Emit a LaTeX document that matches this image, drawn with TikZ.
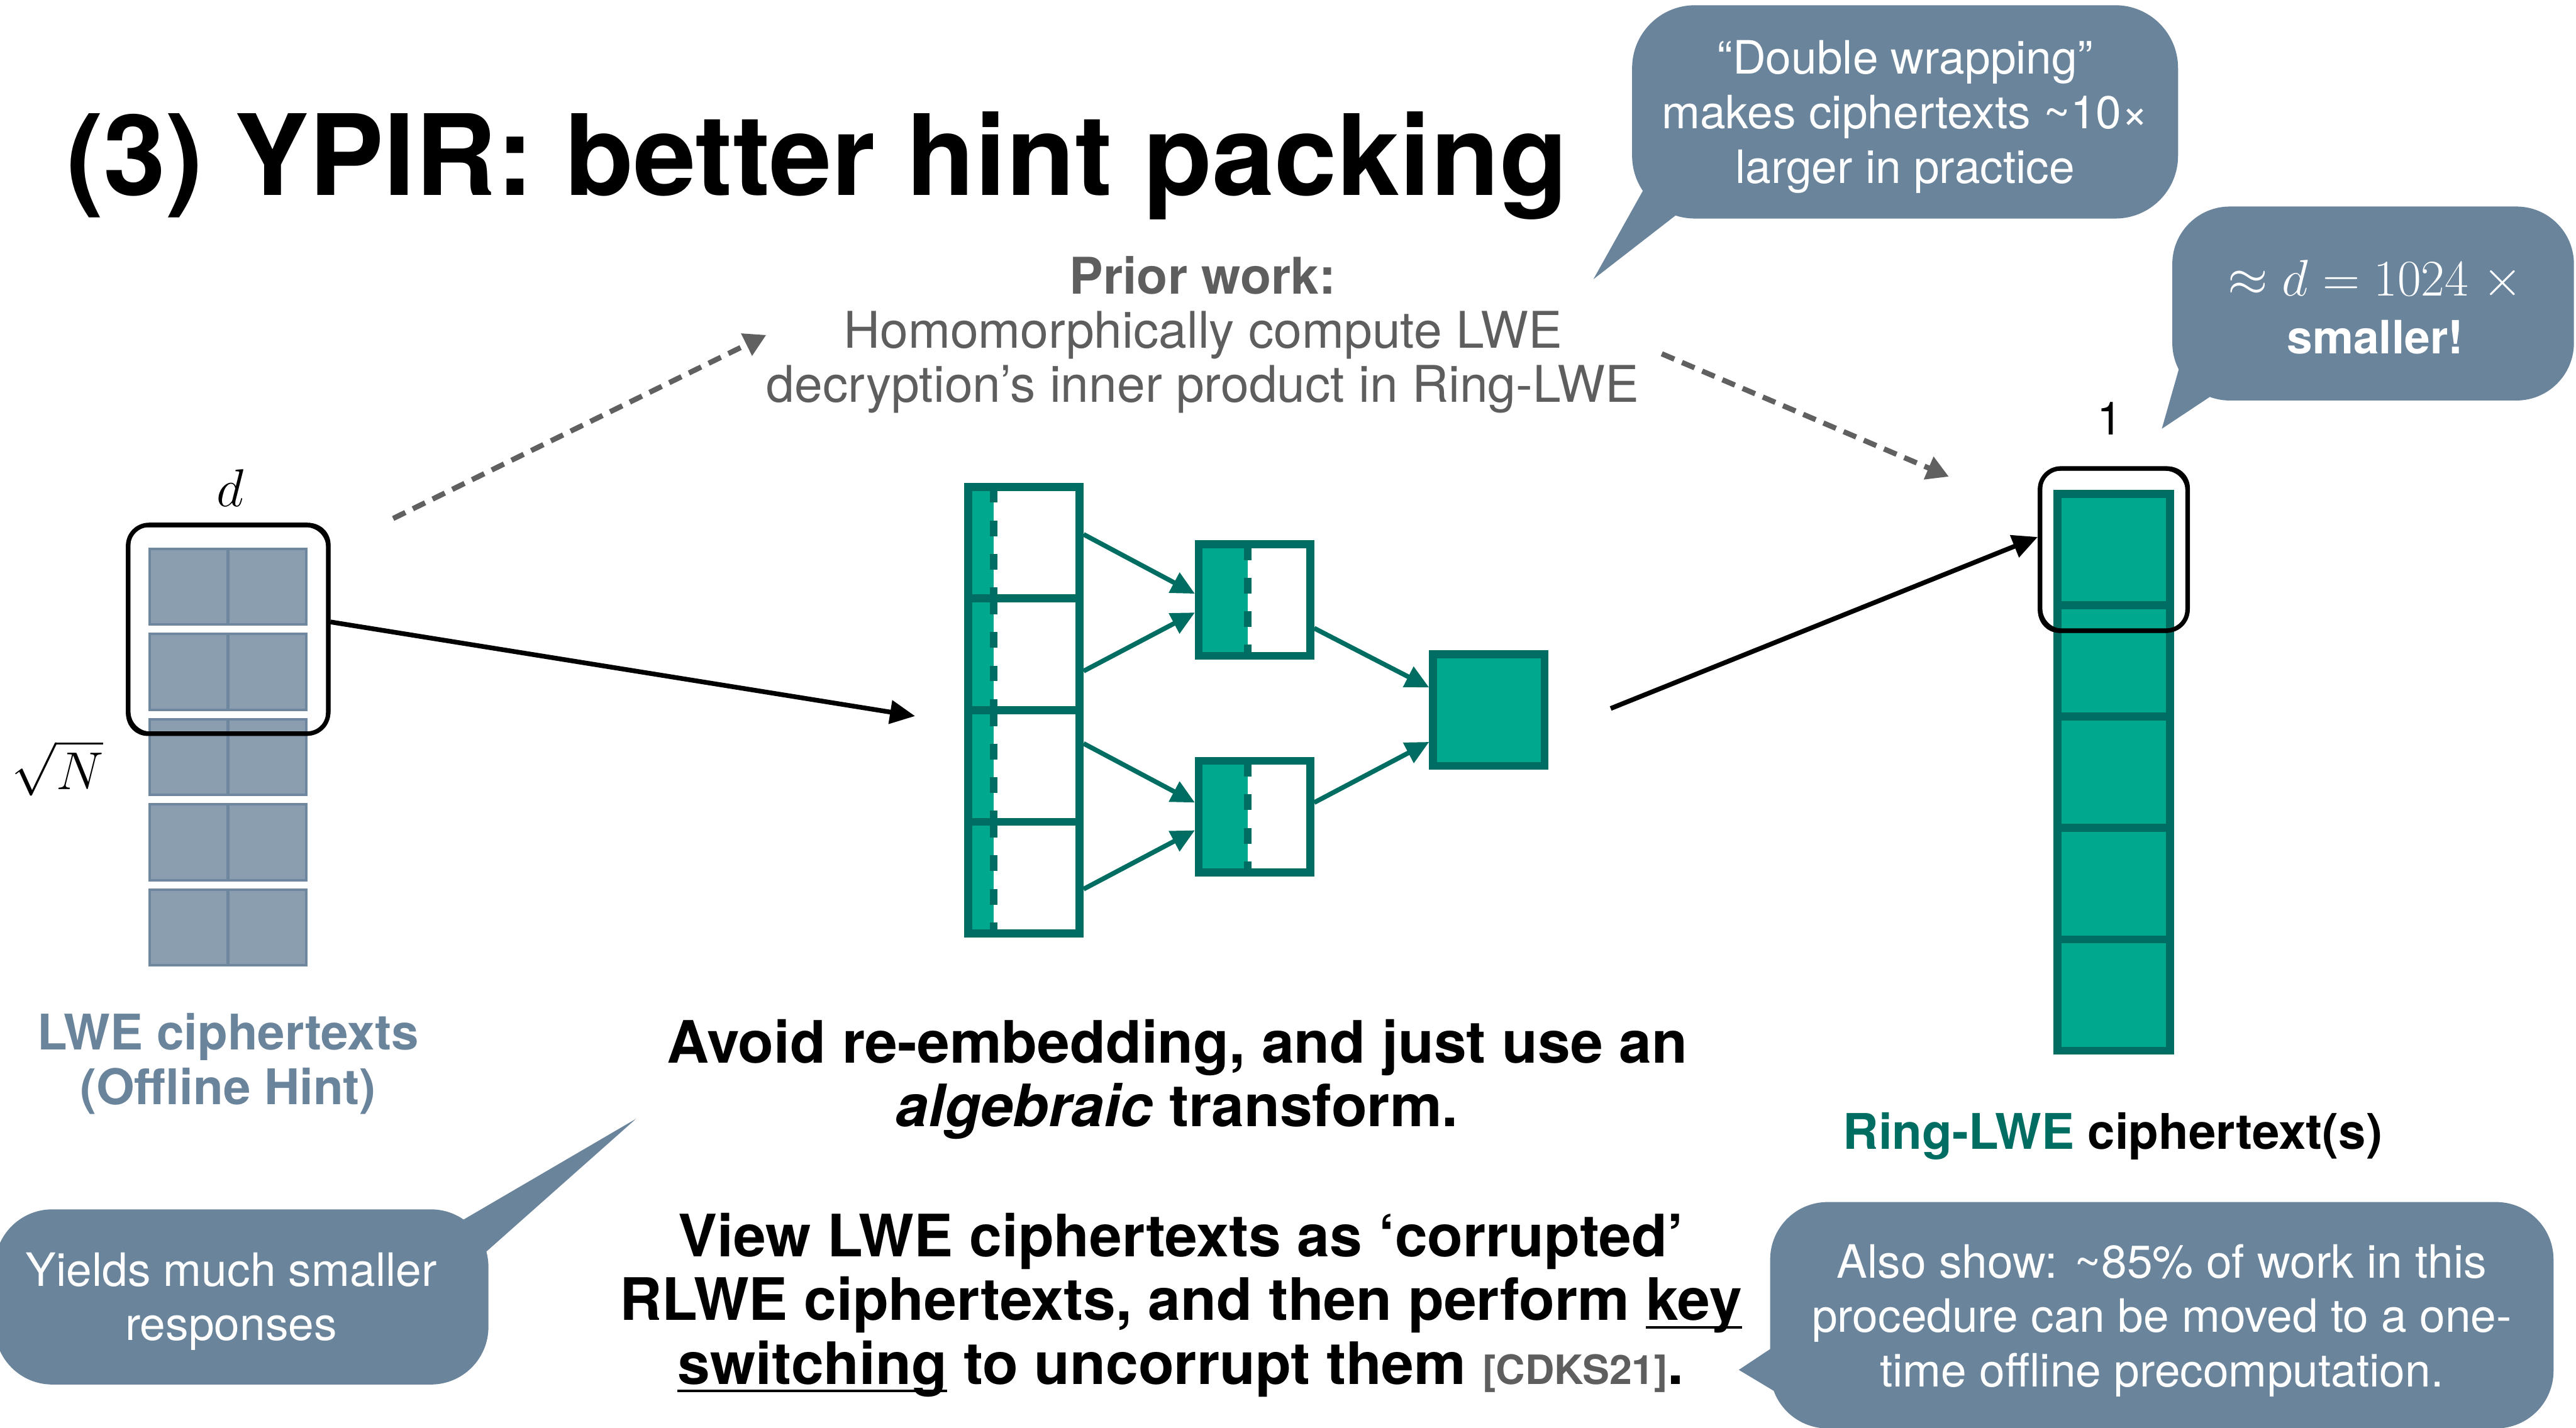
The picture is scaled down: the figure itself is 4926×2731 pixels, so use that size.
\RequirePackage{fix-cm}
\documentclass[tikz,border=0pt]{standalone}
\usepackage{amsmath}
\usepackage{fontspec}
\setmainfont{TeX Gyre Heros}
\usetikzlibrary{arrows.meta, positioning, calc, fit}

\definecolor{slate}{HTML}{6A849B}
\definecolor{hintfill}{HTML}{8B9EB0}
\definecolor{hintedge}{HTML}{6E879F}
\definecolor{ringfill}{HTML}{00A98E}
\definecolor{ringedge}{HTML}{006D63}
\definecolor{notegray}{HTML}{5E5E5E}
\definecolor{dashgray}{HTML}{606060}

\newcommand{\titlefont}{\fontsize{61}{73}\selectfont\bfseries}
\newcommand{\bubblefont}{\fontsize{25}{29.6}\selectfont}
\newcommand{\notefont}{\fontsize{27.5}{29.4}\selectfont}
\newcommand{\labelfont}{\fontsize{26.7}{29.9}\selectfont\bfseries}
\newcommand{\bodyfont}{\fontsize{31.8}{34.7}\selectfont\bfseries}
\newcommand{\mathlabel}{\fontsize{29}{32}\selectfont}

% underline that sits just under the baseline
\newsavebox{\ulbox}
\newcommand{\undl}[1]{\sbox{\ulbox}{#1}\rlap{\rule[-0.14em]{\wd\ulbox}{0.04em}}\usebox{\ulbox}}

\tikzset{
  hintcell/.style={draw=hintedge, fill=hintfill, line width=0.05cm,
    minimum width=1.5cm, minimum height=1.45cm, inner sep=0},
  packcell/.style={draw=ringedge, line width=0.15cm, minimum size=2.13cm, inner sep=0},
  ringcell/.style={draw=ringedge, fill=ringfill, line width=0.15cm,
    minimum width=2.15cm, minimum height=2.13cm, inner sep=0},
  % teal slot on the left part of a cell, closed by a dashed edge
  slotted/.style={path picture={
    \fill[ringfill] (path picture bounding box.south west) rectangle
      ($(path picture bounding box.north west)!#1!(path picture bounding box.north east)$);
    \draw[ringedge, line width=0.14cm, dash pattern=on 0.3cm off 0.34cm]
      ($(path picture bounding box.north west)!#1!(path picture bounding box.north east)$) --
      ($(path picture bounding box.south west)!#1!(path picture bounding box.south east)$);
  }},
  % hand-drawn look: one heavy stroke and two thin offset strokes
  sketchbox/.style={draw=black, line width=0.085cm, rounded corners=0.4cm, inner sep=0,
    postaction={draw=black, line width=0.02cm, transform canvas={shift={(0.035cm,0.025cm)}}},
    postaction={draw=black, line width=0.02cm, transform canvas={shift={(-0.025cm,-0.035cm)}}}},
  flow/.style={draw=ringedge, line width=0.09cm, -{Triangle[length=0.45cm,width=0.42cm]}},
  bigarrow/.style={draw=black, line width=0.09cm, -{Triangle[length=0.48cm,width=0.44cm]}},
  priorarrow/.style={draw=dashgray, line width=0.1cm, dash pattern=on 0.26cm off 0.16cm,
    -{Triangle[length=0.42cm,width=0.45cm]}},
  bubbletext/.style={font=\bubblefont, text=white, align=center, anchor=north, inner sep=0},
}

\begin{document}
\begin{tikzpicture}[x=0.01cm, y=-0.01cm]
\useasboundingbox (0,0) rectangle (4926,2731);

% Title
\node[anchor=base west, font=\titlefont, inner sep=0] (title) at (126,373) {(3) YPIR: better hint packing};

% LWE hint matrix
\foreach \r in {1,...,5}
  \foreach \c in {1,2}
    \node[hintcell] (h-\r-\c) at ({212+149.5*\c},{959+163*\r}) {};
\node[sketchbox, fit=(h-1-1)(h-2-2), inner xsep=0.39cm, inner ysep=0.43cm] (hintsel) {};
\node[font=\mathlabel, inner sep=0] (dlbl) at (440,933) {$d$};
\node[font=\mathlabel, inner sep=0] (rootN) at (110,1469) {$\sqrt{N}$};
\node[font=\labelfont, text=slate, align=center, anchor=north, inner sep=0] (hintlbl) at (436,1937)
  {LWE ciphertexts\\(Offline Hint)};

% Packing tree
\foreach \i in {1,...,4}
  \node[packcell, slotted=0.23] (p\i) at (1958,{1038+213.5*(\i-1)}) {};
\node[packcell, slotted=0.44] (m1) at (2399,1147.5) {};
\node[packcell, slotted=0.44] (m2) at (2399,1562) {};
\node[packcell, fill=ringfill] (sum) at (2847,1358) {};

\draw[flow] ($(p1.east)+(0,-16)$) -- ($(m1.west)+(0,-12)$);
\draw[flow] ($(p2.east)+(0,32)$) -- ($(m1.west)+(0,24)$);
\draw[flow] ($(p3.east)+(0,-43)$) -- ($(m2.west)+(0,-27)$);
\draw[flow] ($(p4.east)+(0,22)$) -- ($(m2.west)+(0,26)$);
\draw[flow] ($(m1.east)+(0,54)$) -- ($(sum.west)+(0,-43)$);
\draw[flow] ($(m2.east)+(0,-27)$) -- ($(sum.west)+(0,61)$);

% Ring-LWE column
\foreach \i in {1,...,5}
  \node[ringcell] (r\i) at (4042,{1051+213*(\i-1)}) {};
\node[sketchbox, fit=(r1), inner xsep=0.26cm, inner ysep=0.41cm] (ringsel) {};
\node[font=\bubblefont, anchor=base, inner sep=0] (onelbl) at (4034,832) {1};
\node[font=\labelfont, anchor=base, inner sep=0] (ringlbl) at (4040,2198)
  {\textcolor{ringedge}{Ring-LWE} ciphertext(s)};

% main arrows
\coordinate (packin) at ($(p2.south west)+(-94,4)$);
\coordinate (packout) at ($(sum.east)+(119,-3)$);
\draw[bigarrow] ($(hintsel.east)+(0,-14)$) -- (packin);
\draw[bigarrow] (packout) -- ($(ringsel.west)+(0,-24)$);

% prior work
\node[font=\notefont, text=notegray, align=center, anchor=north, inner sep=0] (prior) at (2300,490)
  {\textbf{Prior work:}\\Homomorphically compute LWE\\decryption’s inner product in Ring-LWE};
\coordinate (priorto) at ($(ringsel.north west)+(-170,20)$);
\draw[priorarrow] ($(hintsel.north east)+(120,-8)$) -- (prior.west);
\draw[priorarrow] ($(prior.east)+(43,36)$) -- (priorto);

% explanation
\node[font=\bodyfont, align=center, anchor=north, inner sep=0] (avoid) at (2251,1949)
  {Avoid re-embedding, and just use an\\\textit{algebraic} transform.};
\node[font=\bodyfont, align=center, anchor=north, inner sep=0] (view) at (2258,2319)
  {View LWE ciphertexts as ‘corrupted’\\RLWE ciphertexts, and then perform \undl{key}\\\undl{switching} to uncorrupt them {\fontsize{22}{23}\selectfont\color{notegray}[CDKS21]}.};

% speech bubbles
\fill[slate, rounded corners=1.2cm] (3121,10) rectangle (4165,418);
\fill[slate] (3160,332) -- (3047,534) -- (3230,392) -- cycle;
\node[bubbletext] (dwtext) at (3643,77)
  {“Double wrapping”\\makes ciphertexts \textasciitilde10×\\larger in practice};

\fill[slate, rounded corners=1.1cm] (4154,395) rectangle (4922,766);
\fill[slate] (4175,676) -- (4134,820) -- (4250,743) -- cycle;
\node[bubbletext] (gaintext) at (4542,497)
  {{\fontsize{28}{30}\selectfont$\approx d = 1024\;\times$}\\[0.06cm]\textbf{smaller!}};

\fill[slate, rounded corners=1.1cm] (-10,2313) rectangle (934,2648);
\fill[slate] (860,2348) -- (1216,2140) -- (905,2416) -- cycle;
\node[bubbletext] (smalltext) at (442,2395) {Yields much smaller\\responses};

\fill[slate, rounded corners=1.1cm] (3385,2299) rectangle (4883,2732);
\fill[slate] (3420,2557) -- (3325,2620) -- (3425,2680) -- cycle;
\node[bubbletext] (worktext) at (4134,2379)
  {Also show: \textasciitilde85\% of work in this\\procedure can be moved to a one-\\time offline precomputation.};
\end{tikzpicture}
\end{document}
